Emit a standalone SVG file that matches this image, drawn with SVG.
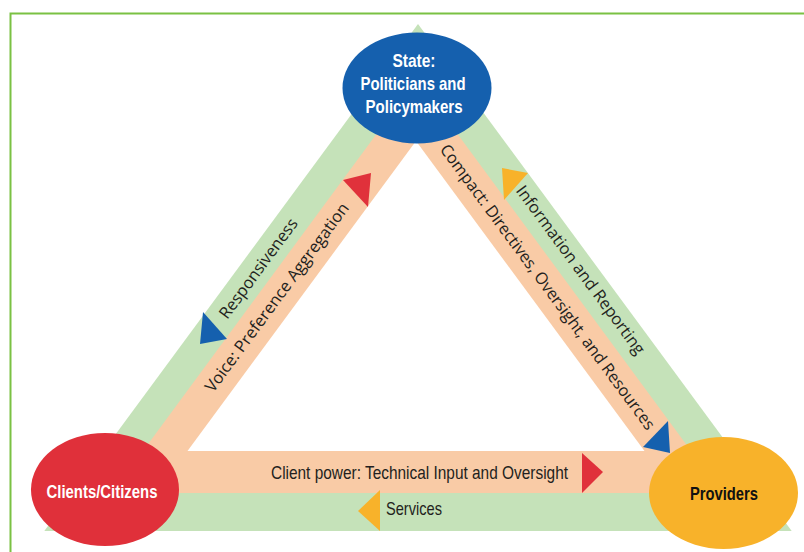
<svg xmlns="http://www.w3.org/2000/svg" width="804" height="552" viewBox="0 0 804 552">
<style>
.node-t{font-family:"Liberation Sans",Arial,sans-serif;font-weight:bold;font-size:19px;text-anchor:middle}
.lbl{font-family:"Liberation Sans",Arial,sans-serif;font-size:19px;fill:#231f20}
.side{font-family:"Open Sans","DejaVu Sans",sans-serif;font-size:16.5px;fill:#231f20;text-anchor:middle}
</style>
<rect x="0" y="0" width="804" height="552" fill="#ffffff"/>
<rect x="10.5" y="13.5" width="810" height="560" fill="none" stroke="#7ac143" stroke-width="2"/>
<g id="connectors">
  <polygon points="418,24 791.7,531 44.3,531" fill="#c5e2b9"/>
  <polygon points="417,79 722,493 112,493" fill="#f9cba6"/>
  <polygon points="416,141 644.5,451 187.5,451" fill="#ffffff"/>
  <polygon points="343,180 371,173 368,207" fill="#e0313b"/>
  <polygon points="203,312 227,339 200,344" fill="#1560ae"/>
  <polygon points="502,168 528,173 504,200" fill="#f8b22a"/>
  <polygon points="668,421 670,453 643,447" fill="#1560ae"/>
  <polygon points="582,453 603,472 582,493" fill="#e0313b"/>
  <polygon points="380,490 358,511 380,531" fill="#f8b22a"/>
  <text class="side" transform="translate(258.5,268.5) rotate(-53.6)" x="0" y="5.5" textLength="120" lengthAdjust="spacingAndGlyphs">Responsiveness</text>
  <text class="side" transform="translate(277,297.5) rotate(-53.6)" x="0" y="5.5" textLength="230" lengthAdjust="spacingAndGlyphs">Voice: Preference Aggregation</text>
  <text class="side" transform="translate(547.5,287) rotate(53.6)" x="0" y="5.5" textLength="350" lengthAdjust="spacingAndGlyphs">Compact: Directives, Oversight, and Resources</text>
  <text class="side" transform="translate(580.5,270) rotate(53.6)" x="0" y="5.5" textLength="205" lengthAdjust="spacingAndGlyphs">Information and Reporting</text>
  <text class="lbl" x="271" y="479" textLength="297" lengthAdjust="spacingAndGlyphs">Client power: Technical Input and Oversight</text>
  <text class="lbl" x="386" y="515" textLength="56" lengthAdjust="spacingAndGlyphs">Services</text>
</g>
<g id="state">
  <ellipse cx="417" cy="88" rx="74.5" ry="55.5" fill="#1560ae"/>
  <text class="node-t" fill="#ffffff" x="414" y="66.5" textLength="43" lengthAdjust="spacingAndGlyphs">State:</text>
  <text class="node-t" fill="#ffffff" x="413" y="90" textLength="105" lengthAdjust="spacingAndGlyphs">Politicians and</text>
  <text class="node-t" fill="#ffffff" x="414" y="112.5" textLength="97" lengthAdjust="spacingAndGlyphs">Policymakers</text>
</g>
<g id="clients">
  <ellipse cx="105" cy="489.5" rx="74" ry="56.5" fill="#e0303a"/>
  <text class="node-t" fill="#ffffff" x="102" y="498" textLength="111" lengthAdjust="spacingAndGlyphs">Clients/Citizens</text>
</g>
<g id="providers">
  <ellipse cx="723.5" cy="493" rx="74.5" ry="56" fill="#f8b22a"/>
  <text class="node-t" fill="#111111" x="724" y="500" textLength="68" lengthAdjust="spacingAndGlyphs">Providers</text>
</g>
</svg>
